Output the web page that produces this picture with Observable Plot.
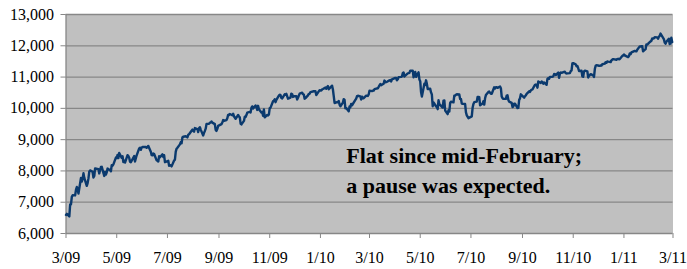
<!DOCTYPE html>
<html><head><meta charset="utf-8">
<script src="https://cdn.jsdelivr.net/npm/d3@7"></script>
<script src="https://cdn.jsdelivr.net/npm/@observablehq/plot@0.6"></script>
<style>
html,body{margin:0;padding:0;background:#fff;}
#chart svg text { font-family: "Liberation Serif", serif !important; }
</style>
</head><body><div id="chart"></div>
<script>
// Daily closes (approximate readings), Mar 2009 to Mar 2011
const dates = [
"2009-03-05","2009-03-06","2009-03-09","2009-03-10","2009-03-11","2009-03-12","2009-03-13","2009-03-16","2009-03-17","2009-03-18","2009-03-19","2009-03-20",
"2009-03-23","2009-03-24","2009-03-25","2009-03-26","2009-03-27","2009-03-30","2009-03-31","2009-04-01","2009-04-02","2009-04-03",
"2009-04-06","2009-04-07","2009-04-08","2009-04-09","2009-04-13","2009-04-14","2009-04-15","2009-04-16","2009-04-17",
"2009-04-20","2009-04-21","2009-04-22","2009-04-23","2009-04-24","2009-04-27","2009-04-28","2009-04-29","2009-04-30","2009-05-01",
"2009-05-04","2009-05-05","2009-05-06","2009-05-07","2009-05-08","2009-05-11","2009-05-12","2009-05-13","2009-05-14","2009-05-15",
"2009-05-18","2009-05-19","2009-05-20","2009-05-21","2009-05-22","2009-05-26","2009-05-27","2009-05-28","2009-05-29",
"2009-06-01","2009-06-02","2009-06-03","2009-06-04","2009-06-05","2009-06-08","2009-06-09","2009-06-10","2009-06-11","2009-06-12",
"2009-06-15","2009-06-16","2009-06-17","2009-06-18","2009-06-19","2009-06-22","2009-06-23","2009-06-24","2009-06-25","2009-06-26",
"2009-06-29","2009-06-30","2009-07-01","2009-07-02","2009-07-06","2009-07-07","2009-07-08","2009-07-09","2009-07-10",
"2009-07-13","2009-07-14","2009-07-15","2009-07-16","2009-07-17","2009-07-20","2009-07-21","2009-07-22","2009-07-23","2009-07-24",
"2009-07-27","2009-07-28","2009-07-29","2009-07-30","2009-07-31","2009-08-03","2009-08-04","2009-08-05","2009-08-06","2009-08-07",
"2009-08-10","2009-08-11","2009-08-12","2009-08-13","2009-08-14","2009-08-17","2009-08-18","2009-08-19","2009-08-20","2009-08-21",
"2009-08-24","2009-08-25","2009-08-26","2009-08-27","2009-08-28","2009-08-31","2009-09-01","2009-09-02","2009-09-03","2009-09-04",
"2009-09-08","2009-09-09","2009-09-10","2009-09-11","2009-09-14","2009-09-15","2009-09-16","2009-09-17","2009-09-18",
"2009-09-21","2009-09-22","2009-09-23","2009-09-24","2009-09-25","2009-09-28","2009-09-29","2009-09-30","2009-10-01","2009-10-02",
"2009-10-05","2009-10-06","2009-10-07","2009-10-08","2009-10-09","2009-10-12","2009-10-13","2009-10-14","2009-10-15","2009-10-16",
"2009-10-19","2009-10-20","2009-10-21","2009-10-22","2009-10-23","2009-10-26","2009-10-27","2009-10-28","2009-10-29","2009-10-30",
"2009-11-02","2009-11-03","2009-11-04","2009-11-05","2009-11-06","2009-11-09","2009-11-10","2009-11-11","2009-11-12","2009-11-13",
"2009-11-16","2009-11-17","2009-11-18","2009-11-19","2009-11-20","2009-11-23","2009-11-24","2009-11-25","2009-11-27",
"2009-11-30","2009-12-01","2009-12-02","2009-12-03","2009-12-04","2009-12-07","2009-12-08","2009-12-09","2009-12-10","2009-12-11",
"2009-12-14","2009-12-15","2009-12-16","2009-12-17","2009-12-18","2009-12-21","2009-12-22","2009-12-23","2009-12-24",
"2009-12-28","2009-12-29","2009-12-30","2009-12-31","2010-01-04","2010-01-05","2010-01-06","2010-01-07","2010-01-08",
"2010-01-11","2010-01-12","2010-01-13","2010-01-14","2010-01-15","2010-01-19","2010-01-20","2010-01-21","2010-01-22",
"2010-01-25","2010-01-26","2010-01-27","2010-01-28","2010-01-29","2010-02-01","2010-02-02","2010-02-03","2010-02-04","2010-02-05",
"2010-02-08","2010-02-09","2010-02-10","2010-02-11","2010-02-12","2010-02-16","2010-02-17","2010-02-18","2010-02-19",
"2010-02-22","2010-02-23","2010-02-24","2010-02-25","2010-02-26","2010-03-01","2010-03-02","2010-03-03","2010-03-04","2010-03-05",
"2010-03-08","2010-03-09","2010-03-10","2010-03-11","2010-03-12","2010-03-15","2010-03-16","2010-03-17","2010-03-18","2010-03-19",
"2010-03-22","2010-03-23","2010-03-24","2010-03-25","2010-03-26","2010-03-29","2010-03-30","2010-03-31","2010-04-01",
"2010-04-05","2010-04-06","2010-04-07","2010-04-08","2010-04-09","2010-04-12","2010-04-13","2010-04-14","2010-04-15","2010-04-16",
"2010-04-19","2010-04-20","2010-04-21","2010-04-22","2010-04-23","2010-04-26","2010-04-27","2010-04-28","2010-04-29","2010-04-30",
"2010-05-03","2010-05-04","2010-05-05","2010-05-06","2010-05-07","2010-05-10","2010-05-11","2010-05-12","2010-05-13","2010-05-14",
"2010-05-17","2010-05-18","2010-05-19","2010-05-20","2010-05-21","2010-05-24","2010-05-25","2010-05-26","2010-05-27","2010-05-28",
"2010-06-01","2010-06-02","2010-06-03","2010-06-04","2010-06-07","2010-06-08","2010-06-09","2010-06-10","2010-06-11",
"2010-06-14","2010-06-15","2010-06-16","2010-06-17","2010-06-18","2010-06-21","2010-06-22","2010-06-23","2010-06-24","2010-06-25",
"2010-06-28","2010-06-29","2010-06-30","2010-07-01","2010-07-02","2010-07-06","2010-07-07","2010-07-08","2010-07-09",
"2010-07-12","2010-07-13","2010-07-14","2010-07-15","2010-07-16","2010-07-19","2010-07-20","2010-07-21","2010-07-22","2010-07-23",
"2010-07-26","2010-07-27","2010-07-28","2010-07-29","2010-07-30","2010-08-02","2010-08-03","2010-08-04","2010-08-05","2010-08-06",
"2010-08-09","2010-08-10","2010-08-11","2010-08-12","2010-08-13","2010-08-16","2010-08-17","2010-08-18","2010-08-19","2010-08-20",
"2010-08-23","2010-08-24","2010-08-25","2010-08-26","2010-08-27","2010-08-30","2010-08-31","2010-09-01","2010-09-02","2010-09-03",
"2010-09-07","2010-09-08","2010-09-09","2010-09-10","2010-09-13","2010-09-14","2010-09-15","2010-09-16","2010-09-17",
"2010-09-20","2010-09-21","2010-09-22","2010-09-23","2010-09-24","2010-09-27","2010-09-28","2010-09-29","2010-09-30","2010-10-01",
"2010-10-04","2010-10-05","2010-10-06","2010-10-07","2010-10-08","2010-10-11","2010-10-12","2010-10-13","2010-10-14","2010-10-15",
"2010-10-18","2010-10-19","2010-10-20","2010-10-21","2010-10-22","2010-10-25","2010-10-26","2010-10-27","2010-10-28","2010-10-29",
"2010-11-01","2010-11-02","2010-11-03","2010-11-04","2010-11-05","2010-11-08","2010-11-09","2010-11-10","2010-11-11","2010-11-12",
"2010-11-15","2010-11-16","2010-11-17","2010-11-18","2010-11-19","2010-11-22","2010-11-23","2010-11-24","2010-11-26",
"2010-11-29","2010-11-30","2010-12-01","2010-12-02","2010-12-03","2010-12-06","2010-12-07","2010-12-08","2010-12-09","2010-12-10",
"2010-12-13","2010-12-14","2010-12-15","2010-12-16","2010-12-17","2010-12-20","2010-12-21","2010-12-22","2010-12-23",
"2010-12-27","2010-12-28","2010-12-29","2010-12-30","2010-12-31","2011-01-03","2011-01-04","2011-01-05","2011-01-06","2011-01-07",
"2011-01-10","2011-01-11","2011-01-12","2011-01-13","2011-01-14","2011-01-18","2011-01-19","2011-01-20","2011-01-21",
"2011-01-24","2011-01-25","2011-01-26","2011-01-27","2011-01-28","2011-01-31","2011-02-01","2011-02-02","2011-02-03","2011-02-04",
"2011-02-07","2011-02-08","2011-02-09","2011-02-10","2011-02-11","2011-02-14","2011-02-15","2011-02-16","2011-02-17","2011-02-18",
"2011-02-22","2011-02-23","2011-02-24","2011-02-25","2011-02-28","2011-03-01","2011-03-02","2011-03-03","2011-03-04"
];
const closes = [
6594,6627,6547,6926,6930,7170,7224,7217,7395,7486,7400,7278,
7776,7660,7749,7924,7776,7522,7609,7761,7978,8017,
7975,7790,7837,8083,8058,7920,8029,8125,8131,
7841,7969,7886,7957,8076,8025,7990,8185,8168,8212,
8426,8410,8512,8409,8575,8418,8469,8284,8331,8268,
8504,8474,8422,8292,8277,8473,8300,8403,8500,
8721,8740,8675,8750,8763,8764,8764,8739,8770,8799,
8612,8504,8497,8555,8539,8339,8322,8299,8472,8438,
8529,8447,8504,8280,8324,8163,8178,8183,8146,
8331,8359,8616,8711,8743,8848,8916,8882,9069,9093,
9108,9096,9070,9154,9171,9286,9320,9280,9256,9370,
9338,9241,9362,9398,9321,9135,9217,9279,9350,9505,
9509,9539,9543,9580,9544,9496,9310,9280,9344,9441,
9497,9547,9627,9605,9626,9683,9791,9783,9820,
9778,9829,9748,9707,9665,9789,9742,9712,9509,9487,
9599,9731,9725,9786,9864,9885,9871,10015,10062,9995,
10092,10041,9949,10081,9972,9868,9882,9762,9962,9712,
9789,9771,9802,10005,10023,10227,10247,10291,10197,10270,
10406,10437,10426,10332,10318,10450,10433,10464,10309,
10345,10471,10452,10366,10388,10390,10286,10337,10405,10471,
10501,10452,10441,10309,10328,10414,10464,10466,10520,
10547,10545,10548,10428,10583,10572,10573,10606,10618,
10663,10627,10681,10710,10609,10725,10603,10389,10172,
10196,10194,10236,10120,10067,10185,10296,10270,10002,10012,
9908,10058,10038,10144,10099,10268,10309,10392,10402,
10383,10282,10374,10321,10325,10404,10406,10396,10444,10566,
10552,10564,10568,10612,10625,10642,10686,10733,10779,10742,
10785,10888,10836,10841,10850,10895,10907,10857,10927,
10974,10970,10897,10928,10997,11005,11019,11123,11145,11019,
11092,11117,11124,11134,11204,11205,10992,11045,11167,11009,
11151,10926,10868,10520,10380,10785,10748,10896,10782,10620,
10625,10510,10444,10068,10193,10067,10043,9975,10259,10137,
10025,10249,10255,9931,9816,9940,9899,10173,10211,
10191,10405,10410,10435,10450,10442,10294,10298,10152,10143,
10138,9870,9774,9732,9686,9743,10018,10138,10198,
10216,10363,10366,10359,10097,10154,10230,10120,10322,10424,
10525,10537,10497,10467,10466,10674,10636,10680,10675,10654,
10698,10644,10378,10320,10303,10302,10406,10416,10271,10213,
10174,10040,10060,10150,10150,10009,10014,10270,10320,10448,
10341,10388,10415,10462,10544,10526,10572,10595,10607,
10753,10761,10739,10662,10860,10812,10858,10835,10788,10829,
10752,10944,10967,10948,11006,11010,11021,11096,11095,11063,
11143,10979,11108,11146,11133,11164,11169,11126,11114,11118,
11125,11189,11216,11434,11444,11406,11346,11357,11283,11193,
11202,11023,11008,11181,11204,11179,10988,11036,11092,
11052,11006,11256,11362,11382,11362,11359,11372,11370,11410,
11428,11476,11457,11499,11492,11478,11534,11559,11573,
11555,11575,11585,11570,11578,11671,11691,11722,11697,11675,
11637,11671,11755,11732,11787,11837,11825,11823,11872,
11980,11977,11985,11990,11824,11892,12040,12041,12062,12092,
12161,12234,12229,12239,12273,12268,12226,12288,12318,12391,
12212,12106,12068,12130,12226,12058,12066,12258,12120
];
const yTicks = [6000, 7000, 8000, 9000, 10000, 11000, 12000, 13000];
const xTickDates = ["2009-03-05","2009-05-05","2009-07-05","2009-09-05","2009-11-05","2010-01-05","2010-03-05",
                    "2010-05-05","2010-07-05","2010-09-05","2010-11-05","2011-01-05","2011-03-05"];
const xTickLabels = ["3/09","5/09","7/09","9/09","11/09","1/10","3/10","5/10","7/10","9/10","11/10","1/11","3/11"];
const noteLines = ["Flat since mid-February;", "a pause was expected."];
const noteValues = [8247, 7288];

const series = dates.map((d, i) => ({date: new Date(d), close: closes[i]}));
const tickDates = xTickDates.map(d => new Date(d));
const labelOf = new Map(tickDates.map((d, i) => [+d, xTickLabels[i]]));
const noteDate = new Date("2010-02-05");
const notes = noteLines.map((t, i) => ({text: t, date: noteDate, value: noteValues[i]}));

const grid = "#878787";
const chart = Plot.plot({
  width: 687,
  height: 269,
  marginLeft: 65.5,
  marginRight: 14.5,
  marginTop: 14,
  marginBottom: 36,
  style: {fontFamily: "'Liberation Serif', serif", fontSize: "16px"},
  x: {type: "utc", domain: [tickDates[0], tickDates[tickDates.length - 1]]},
  y: {domain: [6000, 13000]},
  marks: [
    Plot.frame({fill: "#c0c0c0", stroke: null}),
    Plot.gridY(yTicks, {stroke: grid, strokeOpacity: 1, strokeWidth: 1.3}),
    Plot.ruleX([tickDates[0]], {stroke: grid, strokeWidth: 1.3}),
    Plot.axisY(yTicks, {tickSize: 5, tickPadding: 7, tickFormat: d3.format(","), stroke: grid, fill: "#000", label: null, fontFamily: "Liberation Serif", fontSize: 16}),
    Plot.axisX(tickDates, {tickSize: 5, tickPadding: 13, tickFormat: d => labelOf.get(+d), stroke: grid, fill: "#000", label: null, fontFamily: "Liberation Serif", fontSize: 16}),
    Plot.lineY(series, {x: "date", y: "close", stroke: "#0b3a6e", strokeWidth: 2.4, strokeLinejoin: "round"}),
    Plot.text(notes, {x: "date", y: "value", text: "text", textAnchor: "start", lineAnchor: "bottom", fontSize: 22, fontWeight: "bold", fontFamily: "Liberation Serif", fill: "#000"})
  ]
});
document.getElementById("chart").appendChild(chart);
</script>
</body></html>
